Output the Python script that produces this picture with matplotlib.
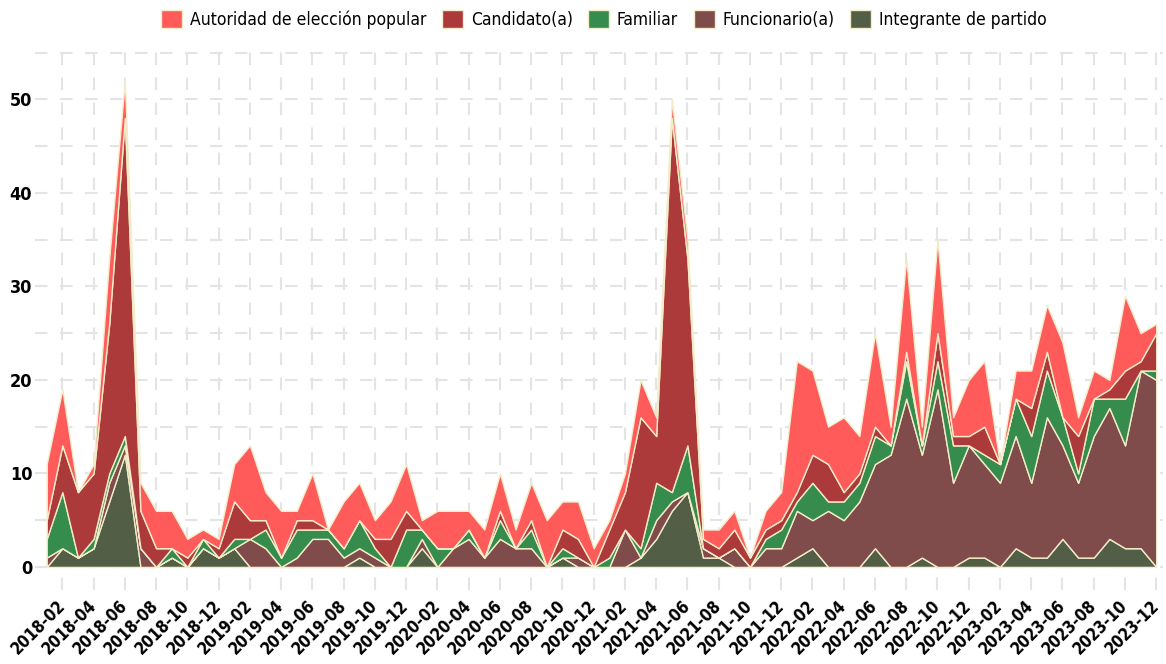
import numpy as np
import pandas as pd
import matplotlib
matplotlib.use("Agg")
import matplotlib.pyplot as plt
from matplotlib.patches import Patch
from matplotlib.ticker import MultipleLocator

plt.rcParams["font.family"] = ["DejaVu Sans"]
plt.rcParams["font.stretch"] = "condensed"

months = pd.period_range("2018-01", "2023-12", freq="M").strftime("%Y-%m").tolist()

integrante = [0, 2, 1, 2, 7, 12, 0, 0, 1, 0, 2, 1, 2, 0, 0, 0, 0, 0, 0, 0, 1, 0, 0, 0,
              2, 0, 0, 0, 0, 0, 0, 0, 0, 1, 0, 0, 0, 0, 1, 3, 6, 8, 1, 1, 0, 0, 0, 0,
              1, 2, 0, 0, 0, 2, 0, 0, 1, 0, 0, 1, 1, 0, 2, 1, 1, 3, 1, 1, 3, 2, 2, 0]
funcionario = [1, 0, 0, 0, 2, 1, 2, 0, 0, 0, 0, 0, 0, 3, 2, 0, 1, 3, 3, 1, 1, 1, 0, 0,
               1, 0, 2, 3, 1, 3, 2, 2, 0, 0, 1, 0, 0, 4, 0, 2, 1, 0, 1, 0, 2, 0, 2, 2,
               5, 3, 6, 5, 7, 9, 12, 18, 11, 19, 9, 12, 10, 9, 12, 8, 15, 10, 8, 13, 14, 11, 19, 20]
familiar = [2, 6, 0, 1, 1, 1, 0, 0, 1, 0, 1, 0, 1, 0, 2, 1, 3, 1, 1, 1, 3, 1, 0, 4,
            1, 2, 0, 1, 0, 2, 0, 2, 0, 1, 0, 0, 1, 0, 1, 4, 1, 5, 0, 0, 0, 0, 1, 2,
            1, 4, 1, 2, 2, 3, 1, 4, 1, 3, 4, 0, 1, 2, 4, 5, 5, 3, 1, 4, 1, 5, 0, 1]
candidato = [2, 5, 7, 7, 16, 34, 4, 2, 0, 1, 0, 1, 4, 2, 1, 0, 1, 1, 0, 0, 0, 1, 3, 2,
             0, 0, 0, 0, 0, 1, 0, 1, 0, 2, 2, 0, 3, 4, 14, 5, 40, 20, 1, 1, 2, 1, 1, 1,
             1, 3, 4, 1, 1, 1, 0, 1, 0, 3, 1, 1, 3, 0, 0, 3, 2, 0, 4, 0, 1, 3, 1, 4]
autoridad = [6, 6, 0, 1, 7, 4, 3, 4, 4, 2, 1, 1, 4, 8, 3, 5, 1, 5, 0, 5, 4, 2, 4, 5,
             1, 4, 4, 2, 3, 4, 2, 4, 5, 3, 4, 2, 1, 2, 4, 2, 2, 2, 1, 2, 2, 0, 2, 3,
             14, 9, 4, 8, 4, 10, 2, 10, 2, 10, 2, 6, 7, 0, 3, 4, 5, 8, 2, 3, 1, 8, 3, 1]

labels = ["Autoridad de elección popular", "Candidato(a)", "Familiar",
          "Funcionario(a)", "Integrante de partido"]
colors = ["#ff5b5b", "#ad3a3b", "#368c4c", "#7f4b4b", "#525e45"]
edge = "#f3ecc9"

x = np.arange(len(months))

fig = plt.figure(figsize=(11.66, 6.64), dpi=100)
ax = fig.add_axes([0.030, 0.111, 0.967, 0.821])

# stacked bottom-up: integrante, funcionario, familiar, candidato, autoridad
ax.stackplot(x, integrante, funcionario, familiar, candidato, autoridad,
             colors=colors[::-1], edgecolor=edge, linewidth=1.0)

ax.set_xlim(-0.75, 71.4)
ax.set_ylim(-2.5, 55.8)

ax.set_xticks(x[1::2])
ax.set_xticklabels(months[1::2], rotation=45, ha="right", va="center",
                   rotation_mode="anchor", fontsize=12, fontweight="bold")
ax.yaxis.set_major_locator(MultipleLocator(10))
ax.yaxis.set_minor_locator(MultipleLocator(5))
ax.set_yticks([0, 10, 20, 30, 40, 50])
for lab in ax.get_yticklabels():
    lab.set_fontsize(13)
    lab.set_fontweight("bold")
ax.tick_params(axis="both", which="both", length=0)
ax.tick_params(axis="x", pad=9)
ax.tick_params(axis="y", pad=2)

ax.set_axisbelow(True)
ax.grid(True, which="major", axis="x", color="#e4e4e4", linestyle=(0, (6, 6)), linewidth=1.5)
ax.grid(True, which="both", axis="y", color="#e4e4e4", linestyle=(0, (6, 6)), linewidth=1.5)
for s in ax.spines.values():
    s.set_visible(False)

handles = [Patch(facecolor=c, edgecolor=edge, linewidth=1) for c in colors]
fig.legend(handles, labels, loc="upper center", bbox_to_anchor=(0.518, 1.008), ncol=5,
           frameon=False, fontsize=12.5, handlelength=1.2, handleheight=1.2,
           handletextpad=0.45, columnspacing=0.9)

fig.savefig("out.png", dpi=100)
